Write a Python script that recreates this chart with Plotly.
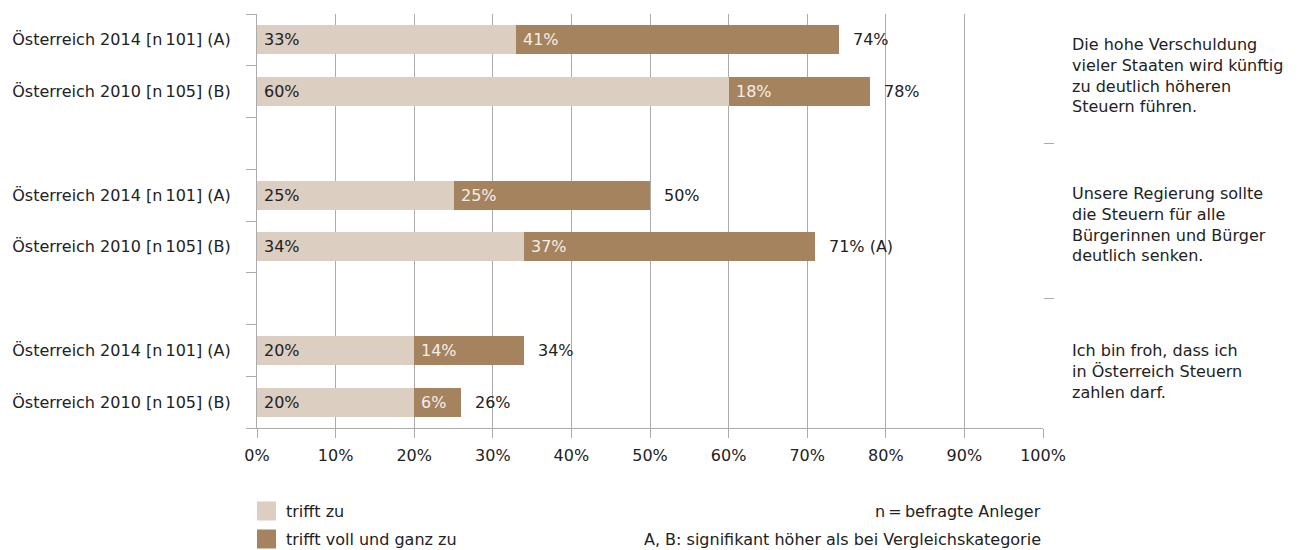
import plotly.graph_objects as go

# ---------------- data ----------------
row_labels = [
    "Österreich 2014 [n\u2009101] (A)",
    "Österreich 2010 [n\u2009105] (B)",
    "Österreich 2014 [n\u2009101] (A)",
    "Österreich 2010 [n\u2009105] (B)",
    "Österreich 2014 [n\u2009101] (A)",
    "Österreich 2010 [n\u2009105] (B)",
]
questions = [
    "Die hohe Verschuldung<br>vieler Staaten wird künftig<br>zu deutlich höheren<br>Steuern führen.",
    "Unsere Regierung sollte<br>die Steuern für alle<br>Bürgerinnen und Bürger<br>deutlich senken.",
    "Ich bin froh, dass ich<br>in Österreich Steuern<br>zahlen darf.",
]
trifft_zu = [33, 60, 25, 34, 20, 20]
trifft_voll = [41, 18, 25, 37, 14, 6]
totals = [74, 78, 50, 71, 34, 26]
total_suffix = ["", "", "", " (A)", "", ""]
x_ticks = [0, 10, 20, 30, 40, 50, 60, 70, 80, 90, 100]
legend_names = ["trifft zu", "trifft voll und ganz zu"]
notes = ["n\u2009=\u2009befragte Anleger", "A, B: signifikant höher als bei Vergleichskategorie"]

# ---------------- style ----------------
FONT = "DejaVu Sans"
FS = 16
TXT = "#222222"
LIGHT = "#DCCEC1"
DARK = "#A6835F"
GRID = "#ABABAB"
W, H = 1307, 550
L, R, T, B = 257, 264, 14, 122

# slot layout: 3 groups of 2 rows + 1 empty slot between groups
positions = [g * 3 + r + 0.5 for g in range(3) for r in range(2)]
n_slots = 8
group_separators = [2.5, 5.5]

def px_x(px):
    return (px - L) / (W - L - R)

def px_y(px):
    return (H - B - px) / (H - T - B)

fig = go.Figure()
fig.add_trace(go.Bar(
    y=positions, x=trifft_zu, orientation="h", name=legend_names[0],
    marker=dict(color=LIGHT, line=dict(width=0)), width=0.56, showlegend=False,
    hoverinfo="skip",
))
fig.add_trace(go.Bar(
    y=positions, x=trifft_voll, base=trifft_zu, orientation="h", name=legend_names[1],
    marker=dict(color=DARK, line=dict(width=0)), width=0.56, showlegend=False,
    hoverinfo="skip",
))
# helper traces for the extra tick axes
fig.add_trace(go.Scatter(x=[None], y=[None], yaxis="y2", showlegend=False, hoverinfo="skip"))
fig.add_trace(go.Scatter(x=[None], y=[None], yaxis="y3", showlegend=False, hoverinfo="skip"))

annotations = []
for i, y in enumerate(positions):
    annotations.append(dict(x=0, y=y, xref="x", yref="y", text=f"{trifft_zu[i]}%",
                            xanchor="left", xshift=5, showarrow=False,
                            font=dict(family=FONT, size=FS, color=TXT)))
    annotations.append(dict(x=trifft_zu[i], y=y, xref="x", yref="y", text=f"{trifft_voll[i]}%",
                            xanchor="left", xshift=5, showarrow=False,
                            font=dict(family=FONT, size=FS, color="#F4EEE8")))
    annotations.append(dict(x=totals[i], y=y, xref="x", yref="y",
                            text=f"{totals[i]}%{total_suffix[i]}",
                            xanchor="left", xshift=12, showarrow=False,
                            font=dict(family=FONT, size=FS, color=TXT)))

q_tops = [33, 182, 339]
for q, top in zip(questions, q_tops):
    annotations.append(dict(x=px_x(1070), y=px_y(top), xref="paper", yref="paper", text=q,
                            xanchor="left", yanchor="top", align="left", showarrow=False,
                            font=dict(family=FONT, size=FS, color=TXT)))

# legend (custom, larger swatches)
leg_centers = [511, 539]
shapes = []
for name, col, cy in zip(legend_names, [LIGHT, DARK], leg_centers):
    shapes.append(dict(type="rect", xref="paper", yref="paper",
                       x0=px_x(257), x1=px_x(276), y0=px_y(cy - 9.5), y1=px_y(cy + 9.5),
                       fillcolor=col, line=dict(width=0)))
    annotations.append(dict(x=px_x(284), y=px_y(cy), xref="paper", yref="paper", text=name,
                            xanchor="left", yanchor="middle", showarrow=False,
                            font=dict(family=FONT, size=FS, color=TXT)))
for note, cy in zip(notes, leg_centers):
    annotations.append(dict(x=1, y=px_y(cy), xref="paper", yref="paper", text=note,
                            xanchor="right", yanchor="middle", showarrow=False,
                            font=dict(family=FONT, size=FS, color=TXT)))

fig.update_layout(
    width=W, height=H,
    margin=dict(l=L, r=R, t=T, b=B, pad=0),
    paper_bgcolor="white", plot_bgcolor="white",
    barmode="stack", bargap=0,
    font=dict(family=FONT, size=FS, color=TXT),
    xaxis=dict(range=[0, 100], tickvals=x_ticks, ticktext=[f"{v}%" for v in x_ticks],
               showgrid=True, gridcolor=GRID, gridwidth=1, zeroline=False,
               showline=True, linecolor=GRID, linewidth=1,
               ticks="outside", ticklen=9, tickcolor=GRID, tickwidth=1,
               ticklabelstandoff=4,
               tickfont=dict(family=FONT, size=FS, color=TXT), fixedrange=True),
    yaxis=dict(range=[n_slots, 0], tickvals=positions, ticktext=row_labels,
               showgrid=False, zeroline=False, showline=True, linecolor=GRID, linewidth=1,
               ticks="", ticklabelstandoff=22,
               tickfont=dict(family=FONT, size=FS, color=TXT), fixedrange=True),
    yaxis2=dict(range=[n_slots, 0], overlaying="y", side="left", anchor="x",
                tickvals=list(range(n_slots + 1)), showticklabels=False,
                ticks="outside", ticklen=10, tickcolor=GRID, tickwidth=1,
                showgrid=False, zeroline=False, showline=False, fixedrange=True),
    yaxis3=dict(range=[n_slots, 0], overlaying="y", side="right", anchor="x",
                tickvals=group_separators, showticklabels=False,
                ticks="outside", ticklen=10, tickcolor=GRID, tickwidth=1,
                showgrid=False, zeroline=False, showline=False, fixedrange=True),
    annotations=annotations,
    shapes=shapes,
    showlegend=False,
)

fig.write_html(
    "out.html",
    config={"displayModeBar": False, "staticPlot": True},
    post_script="document.body.style.margin='0';document.body.style.overflow='hidden';",
)
